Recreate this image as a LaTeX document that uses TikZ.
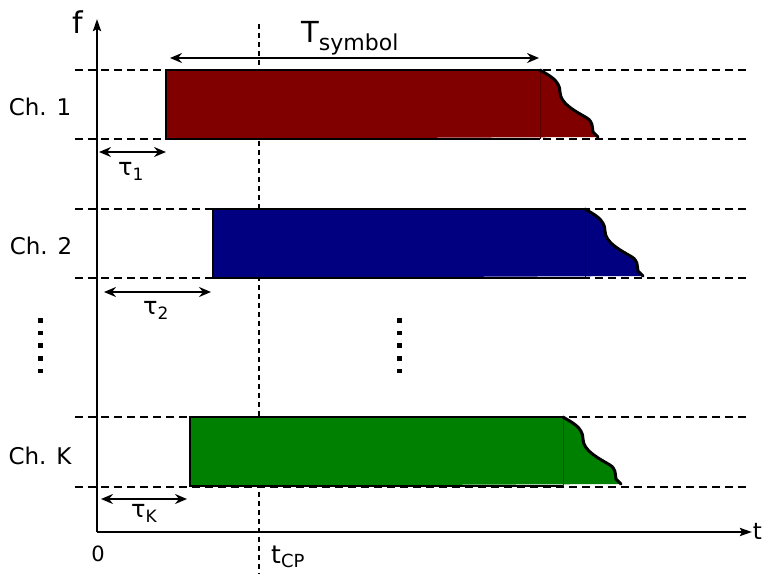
\documentclass[tikz,border=0pt]{standalone}
\usepackage{fontspec}
\setmainfont{DejaVu Sans}
\usetikzlibrary{arrows.meta}
\definecolor{chred}{HTML}{800000}
\definecolor{chblue}{HTML}{000080}
\definecolor{chgreen}{HTML}{008000}
\newcommand\symbshape[4]{% #1 x-left, #2 x-end of straight part, #3 y-top, #4 colour
  \fill[#4] (#1,#3) -- (#2,#3) .. controls +(8,5) and +(0,-12) .. ++(20,22)
     .. controls +(0,12) and +(-10,-6) .. ++(27,26)
     .. controls +(6,4) and +(-1,-6) .. ++(6,14) -- ++(5,5) -- (#1,#3+69) -- cycle;
  \draw[#4!70!black, line width=0.6pt] (#2,#3) -- (#2,#3+69);
  \draw[boxline] (#2,#3+69) -- (#1,#3+69) -- (#1,#3) -- (#2,#3);
  \draw[waveline] (#2,#3) .. controls +(8,5) and +(0,-12) .. ++(20,22)
     .. controls +(0,12) and +(-10,-6) .. ++(27,26)
     .. controls +(6,4) and +(-1,-6) .. ++(6,14) -- ++(5,5);
}
\begin{document}
\begin{tikzpicture}[x=1pt,y=-1pt,
  hdash/.style={line width=2pt, dash pattern=on 8pt off 5pt},
  vdash/.style={line width=1.9pt, dash pattern=on 5pt off 4pt},
  axisline/.style={line width=2.4pt, -{Stealth[length=12pt,width=8pt,inset=2pt]}},
  dimline/.style={line width=1.8pt, {Stealth[length=12pt,width=10pt,inset=4pt]}-{Stealth[length=12pt,width=10pt,inset=4pt]}},
  boxline/.style={line width=2.3pt, line join=miter},
  waveline/.style={line width=3pt, line join=round, line cap=round},
  chlabel/.style={font=\fontsize{23}{26}\selectfont, inner sep=0pt},
  plain/.style={inner sep=0pt},
]
\useasboundingbox (0,0) rectangle (762,574);

% dashed channel borders
\foreach \y in {70,139,209,278,417,487}{
  \draw[hdash] (75,\y) -- (750,\y);
}
% t_CP dashed line
\coordinate (cpTop) at (259,24);
\coordinate (cpBot) at (259,574);
\draw[vdash] (cpTop) -- (cpBot);

% symbols
\symbshape{166}{540}{70}{chred}
\symbshape{213}{585}{209}{chblue}
\symbshape{190}{563}{417}{chgreen}

% axes
\coordinate (origin) at (97,532);
\coordinate (fTip) at (97,19);
\coordinate (tTip) at (752,532);
\draw[axisline] (origin) -- (fTip);
\draw[axisline] (origin) -- (tTip);
\node[plain, font=\fontsize{30}{32}\selectfont] (flab) at (78,22) {f};
\node[plain, font=\fontsize{23}{26}\selectfont, anchor=east] (tlab) at (762,531) {t};
\node[plain, font=\fontsize{21}{24}\selectfont] (zero) at (98,554) {0};
\node[plain, anchor=base west] (tcp) at (271,563) {{\fontsize{25}{28}\selectfont t}\raisebox{-4pt}{\fontsize{18}{20}\selectfont CP}};

% T_symbol
\coordinate (tsL) at (170,58);
\coordinate (tsR) at (539,58);
\draw[dimline] (tsL) -- (tsR);
\node[plain, anchor=base west] (tsym) at (301,42) {{\fontsize{29}{31}\selectfont T}\raisebox{-8pt}{\fontsize{22}{24}\selectfont symbol}};

% tau arrows
\coordinate (t1L) at (99,152);
\coordinate (t1R) at (166,152);
\draw[dimline] (t1L) -- (t1R);
\node[plain, anchor=base west] (tau1) at (118,175) {{\fontsize{24}{26}\selectfont τ}\raisebox{-5pt}{\fontsize{17}{19}\selectfont 1}};

\coordinate (t2L) at (104,292);
\coordinate (t2R) at (211,292);
\draw[dimline] (t2L) -- (t2R);
\node[plain, anchor=base west] (tau2) at (143,314) {{\fontsize{24}{26}\selectfont τ}\raisebox{-5pt}{\fontsize{17}{19}\selectfont 2}};

\coordinate (tKL) at (101,499);
\coordinate (tKR) at (187,499);
\draw[dimline] (tKL) -- (tKR);
\node[plain, anchor=base west] (tauK) at (131,517) {{\fontsize{24}{26}\selectfont τ}\raisebox{-5pt}{\fontsize{17}{19}\selectfont K}};

% channel labels
\node[chlabel] (ch1) at (40,107) {Ch. 1};
\node[chlabel] (ch2) at (41,246) {Ch. 2};
\node[chlabel] (chK) at (40,456) {Ch. K};

% vertical dots
\foreach \i in {0,...,4}{
  \fill (38,318+12.7*\i) rectangle ++(4.5,4.5);
  \fill (397,318+12.7*\i) rectangle ++(4.5,4.5);
}
\end{tikzpicture}
\end{document}
